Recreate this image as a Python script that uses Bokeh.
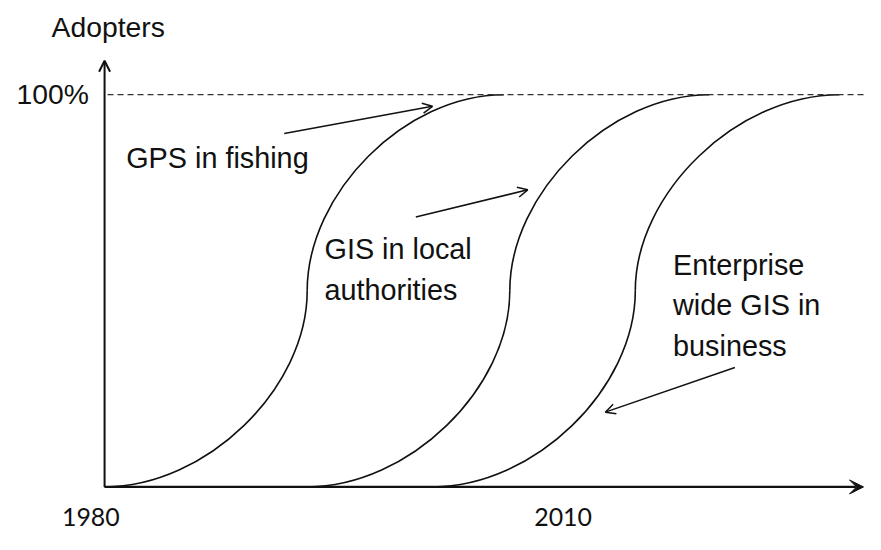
from bokeh.plotting import figure
from bokeh.models import Range1d, Arrow, OpenHead, VeeHead, ColumnDataSource
from bokeh.core.properties import value
from bokeh.embed import file_html
from bokeh.resources import INLINE

# ---------------- data ----------------
curve_names = ["GPS in fishing", "GIS in local authorities", "Enterprise wide GIS in business"]
start_year = [1980.0, 1993.4, 2001.7]    # adoption starts (0 %)
mid_year = [1993.4, 2006.8, 2015.1]      # inflection (50 %)
end_year = [2006.4, 2020.0, 2028.6]      # saturation (100 %)
start_pct = [0, 0, 0]
mid_pct = [50, 50, 50]
end_pct = [100, 100, 100]

tick_years = [1980, 2010]
tick_labels = ["1980", "2010"]
level_pct = [100]
level_labels = ["100%"]
y_title = "Adopters"
curve_labels = ["GPS in fishing", "GIS in local\nauthorities", "Enterprise\nwide GIS in\nbusiness"]

# ---------------- layout ----------------
REF_W, REF_H = 881, 550          # reference picture size
W, H = 865, 534                  # figure size (fits the window with 8px margins)
SX, SY = W / REF_W, H / REF_H
S = (SX + SY) / 2
ORG_X, ORG_Y = 106, 501          # reference px of (1980, 0 %)
PX_YEAR, PX_PCT = 15.4, 4.04
def X(px):
    return tick_years[0] + (px - ORG_X) / PX_YEAR
def Y(py):
    return (ORG_Y - py) / PX_PCT
def fs(px):
    return f"{px * S:.1f}px"

p = figure(width=W, height=H, output_backend="svg", toolbar_location=None,
           x_range=Range1d(X(0), X(REF_W)), y_range=Range1d(Y(REF_H), Y(0)),
           min_border=0, x_axis_location=None, y_axis_location=None)
p.outline_line_color = None
p.grid.visible = False
p.background_fill_color = "white"

INK = "#111111"
FONT = value("Liberation Sans")

# S-curves: two quarter-ellipse-like bezier segments each
k = 0.5
low = ColumnDataSource(dict(
    x0=start_year, y0=start_pct, x1=mid_year, y1=mid_pct,
    cx0=[s + k * (m - s) for s, m in zip(start_year, mid_year)], cy0=start_pct,
    cx1=mid_year, cy1=[m - k * (m - s) for s, m in zip(start_pct, mid_pct)]))
up = ColumnDataSource(dict(
    x0=mid_year, y0=mid_pct, x1=end_year, y1=end_pct,
    cx0=mid_year, cy0=[m + k * (e - m) for m, e in zip(mid_pct, end_pct)],
    cx1=[e - k * (e - m) for m, e in zip(mid_year, end_year)], cy1=end_pct))
for src in (low, up):
    p.bezier(x0="x0", y0="y0", x1="x1", y1="y1", cx0="cx0", cy0="cy0",
             cx1="cx1", cy1="cy1", source=src, line_color=INK, line_width=1.6)

# 100 % dashed level
p.segment(x0=[X(109)], y0=level_pct, x1=[X(REF_W)], y1=level_pct,
          line_color="#333333", line_width=1.2, line_dash="6 4")

# axes as arrows
p.add_layout(Arrow(x_start=tick_years[0], y_start=0, x_end=X(879), y_end=0,
                   line_color=INK, line_width=2.2,
                   end=VeeHead(size=14, fill_color=INK, line_color=INK, line_width=1)))
p.add_layout(Arrow(x_start=tick_years[0], y_start=0, x_end=tick_years[0], y_end=Y(62),
                   line_color=INK, line_width=2,
                   end=OpenHead(size=11, line_color=INK, line_width=2)))

# annotation arrows (label -> curve)
ann = [((289, 137), (440, 109)), ((423, 223), (537, 195)), ((748, 378), (616, 424))]
for (sx, sy), (ex, ey) in ann:
    p.add_layout(Arrow(x_start=X(sx), y_start=Y(sy), x_end=X(ex), y_end=Y(ey),
                       line_color=INK, line_width=1.5,
                       end=OpenHead(size=10, line_color=INK, line_width=1.5)))

# tick labels (x) and level label (y)
tick_dx = [-14, 5]
p.text(x=tick_years, y=[0, 0], text=tick_labels,
       x_offset=[d * SX for d in tick_dx], y_offset=31 * SY,
       text_font=value("Lato"), text_font_size=fs(25.5), text_color=INK,
       text_align="center", text_baseline="middle")
p.text(x=[tick_years[0]], y=level_pct, text=level_labels, x_offset=-16 * SX, y_offset=-1,
       text_font=FONT, text_font_size=fs(29), text_color=INK,
       text_align="right", text_baseline="middle")
p.text(x=[X(52)], y=[Y(27)], text=[y_title],
       text_font=FONT, text_font_size=fs(29), text_color=INK,
       text_align="left", text_baseline="middle")

# curve labels (y = vertical centre of each text block)
p.text(x=[X(128), X(330), X(685)], y=[Y(162), Y(277), Y(314)], text=curve_labels,
       text_font=FONT, text_font_size=fs(29.5), text_color=INK, text_line_height=1.27,
       text_align="left", text_baseline="middle")

open("out.html", "w").write(file_html(p, INLINE))
